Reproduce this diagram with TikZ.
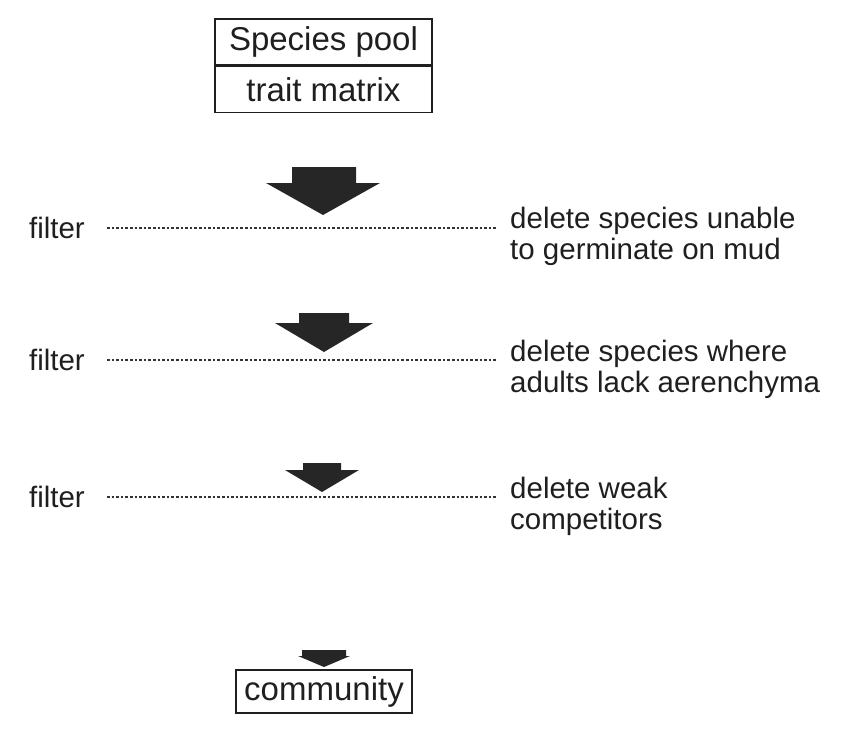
\documentclass[tikz,border=0pt]{standalone}
\usepackage{fontspec}
\setmainfont{Liberation Sans}
\usetikzlibrary{positioning}

\begin{document}
\begin{tikzpicture}[x=1pt, y=-1pt,
    box/.style = {draw=black!88, line width=1.3pt, rectangle, inner sep=0pt, text=black!88, font=\fontsize{33}{38}\selectfont},
    side/.style = {inner sep=0pt, text=black!88, align=left, font=\fontsize{29.5}{31}\selectfont},
    sieve/.style = {line width=1.6pt, black!80, dash pattern=on 2.6pt off 2pt},
    flow/.style = {fill=black!85},]
    \useasboundingbox (0,0) rectangle (852,736);
    \node [box, minimum width=217pt, minimum height=46pt] (pool) at (323.5,42) {Species pool};
    \node [box, minimum width=217pt, minimum height=46pt, below=0pt of pool] (matrix) {trait matrix};
    \fill[flow] (292,167) -- (356,167) -- (356,183) -- (380,183) -- (323,215) -- (266,183) -- (292,183) -- cycle;
    \coordinate (f1_start) at (107,228);
    \coordinate (f1_end) at (497,228);
    \draw[sieve] (f1_start) -- (f1_end);
    \node [side, left=22pt of f1_start] (filter1) {filter};
    \node [side, right=13pt of f1_end, yshift=-8pt] (rule1) {delete species unable\\to germinate on mud};
    \fill[flow] (299,313) -- (349,313) -- (349,323) -- (373,323) -- (324,352) -- (275,323) -- (299,323) -- cycle;
    \coordinate (f2_start) at (107,360);
    \coordinate (f2_end) at (497,360);
    \draw[sieve] (f2_start) -- (f2_end);
    \node [side, left=22pt of f2_start] (filter2) {filter};
    \node [side, right=13pt of f2_end, yshift=-9pt] (rule2) {delete species where\\adults lack aerenchyma};
    \fill[flow] (303,463) -- (341,463) -- (341,470) -- (359,470) -- (322,492) -- (285,470) -- (303,470) -- cycle;
    \coordinate (f3_start) at (107,497);
    \coordinate (f3_end) at (497,497);
    \draw[sieve] (f3_start) -- (f3_end);
    \node [side, left=22pt of f3_start] (filter3) {filter};
    \node [side, right=13pt of f3_end, yshift=-9pt] (rule3) {delete weak\\competitors};
    \fill[flow] (302,650) -- (346,650) -- (346,656) -- (350,656) -- (324,667) -- (298,656) -- (302,656) -- cycle;
    \node [box, minimum width=176pt, minimum height=43pt] (community) at (324,691.5) {community};
  \end{tikzpicture}
\end{document}
